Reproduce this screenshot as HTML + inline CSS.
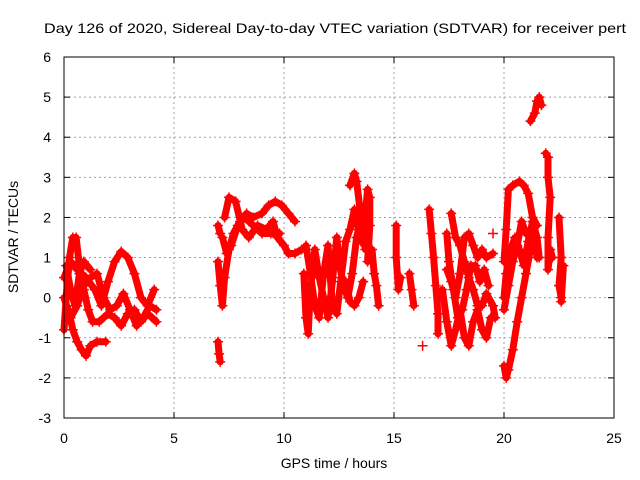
<!DOCTYPE html>
<html><head><meta charset="utf-8"><style>
html,body{margin:0;padding:0;background:#fff;}
svg{display:block;font-family:"Liberation Sans",sans-serif;}
</style></head><body>
<svg id="chart" width="640" height="480" viewBox="0 0 640 480">
<text x="44" y="33" font-size="14" textLength="582" lengthAdjust="spacingAndGlyphs">Day 126 of 2020, Sidereal Day-to-day VTEC variation (SDTVAR) for receiver pert</text>
<g id="grid"></g>
<g id="ticks"></g>
<g id="marks"></g>
<rect x="64" y="57" width="550" height="361" fill="none" stroke="#000" stroke-width="1"/>
<text x="334" y="468" font-size="14" text-anchor="middle">GPS time / hours</text>
<text x="0" y="0" font-size="14" text-anchor="middle" transform="translate(18,237) rotate(-90)">SDTVAR / TECUs</text>
</svg>
<script>
const xTicks=[0,5,10,15,20,25];
const yTicks=[-3,-2,-1,0,1,2,3,4,5,6];
const trackA=[[0,-0.8],[0.1,0],[0.25,1.0],[0.4,1.5],[0.55,1.5],[0.7,0.8],[0.9,0.2],[1.1,-0.3],[1.3,-0.6],[1.6,-0.6],[2.0,-0.4],[2.3,-0.5],[2.6,-0.7],[2.9,-0.4],[3.2,-0.3],[3.5,-0.6],[3.8,-0.4],[4.2,-0.6]];
const trackB=[[0,0.5],[0.3,0.9],[0.6,0.7],[1.0,0.5],[1.4,0.2],[1.7,-0.2],[2.0,0.4],[2.3,0.9],[2.6,1.15],[2.9,1.0],[3.2,0.6],[3.5,0.0],[3.8,-0.2],[4.1,0.2]];
const trackC=[[0,0],[0.3,-0.5],[0.6,-0.2],[0.9,0.3],[1.2,0.5],[1.5,0.6],[1.8,0.0],[2.1,-0.3],[2.4,-0.2],[2.7,0.1],[3.0,-0.3],[3.3,-0.7],[3.6,-0.5],[3.9,-0.2],[4.2,-0.3]];
const trackD=[[0.2,-0.3],[0.4,-0.8],[0.6,-1.1],[0.8,-1.3],[1.0,-1.45],[1.2,-1.2],[1.5,-1.1],[1.9,-1.1]];
const trackE=[[0.1,0.8],[0.3,0.2],[0.5,-0.2],[0.7,0.6],[0.9,0.9],[1.2,0.7]];
const trackF=[[7.0,0.9],[7.1,0.3],[7.2,-0.2],[7.3,0.5],[7.5,1.2],[7.7,1.6],[8.0,1.9],[8.3,2.1],[8.6,2.0],[9.0,2.1],[9.3,2.3],[9.6,2.4],[9.9,2.3],[10.2,2.1],[10.5,1.9]];
const trackG=[[7.3,2.0],[7.5,2.5],[7.8,2.4],[8.1,1.7],[8.4,1.5],[8.8,1.8],[9.2,1.7],[9.5,1.9],[9.7,1.5],[10.0,1.3],[10.2,1.1],[10.5,1.1],[10.8,1.2]];
const trackH=[[7.2,1.5],[7.4,1.1],[7.6,1.3],[7.9,1.8],[8.2,2.0],[8.6,1.8],[9.0,1.6],[9.4,1.6],[9.8,1.6]];
const trackI=[[7.0,1.8],[7.1,1.6]];
const trackI2=[[7.0,-1.1],[7.05,-1.4],[7.1,-1.6]];
const trackJ=[[10.9,0.6],[11.0,-0.5],[11.1,-0.9],[11.2,0.2],[11.4,1.2],[11.6,0.5],[11.8,0.0],[12.0,-0.5],[12.2,0.4],[12.4,1.5],[12.5,0.9],[12.7,0.3],[12.9,0.0],[13.1,0.6],[13.3,1.5],[13.5,2.0],[13.6,1.5],[13.7,1.2]];
const trackK=[[11.0,1.3],[11.2,0.6],[11.4,-0.2],[11.6,-0.5],[11.8,0.6],[12.0,1.3],[12.2,-0.2],[12.4,-0.4],[12.6,0.5],[12.8,1.4],[13.0,1.7],[13.2,2.2],[13.3,1.9],[13.5,1.4],[13.7,1.5]];
const trackL=[[12.8,0.4],[13.0,-0.1],[13.2,-0.2],[13.4,0.0],[13.6,0.4]];
const trackM=[[13.0,2.8],[13.2,3.1],[13.3,2.9],[13.5,2.0],[13.6,1.5],[13.8,2.7],[13.9,2.5],[13.9,1.8],[13.8,0.9]];
const trackN1=[[14.0,1.2],[14.1,0.6],[14.2,0.3],[14.3,-0.2]];
const trackN2=[[15.1,1.8],[15.1,1.0],[15.2,0.2],[15.3,0.5]];
const trackN3=[[15.7,0.6],[15.8,0.2],[15.9,-0.2]];
const trackN4=[[16.3,-1.2]];
const trackN5=[[16.6,2.2],[16.7,1.6],[16.8,1.0],[16.9,0.3],[17.0,-0.4],[17.0,-0.9]];
const trackN=[[17.2,0.2],[17.4,-0.6],[17.6,-1.2],[17.8,-0.8],[18.0,-0.3],[18.2,-1.0],[18.4,-1.2],[18.6,-0.6],[18.8,-0.3],[19.0,-0.8],[19.2,-1.0],[19.4,-0.5]];
const trackO=[[17.6,2.1],[17.8,1.5],[18.0,1.3],[18.2,0.9],[18.4,0.5],[18.6,0.2],[18.8,-0.2],[19.0,-0.2],[19.2,0.1],[19.5,-0.2],[19.6,-0.5]];
const trackP=[[17.4,0.7],[17.6,0.4],[17.8,0.0],[18.0,0.6],[18.2,1.5],[18.4,1.6],[18.6,1.3],[18.8,1.0],[19.0,1.2],[19.2,1.0],[19.5,1.1]];
const trackQ=[[17.4,1.6],[17.5,0.9],[17.7,0.2],[17.9,-0.5],[18.1,-0.3],[18.3,0.2],[18.5,0.8],[18.7,0.8],[18.9,0.4],[19.1,0.7],[19.3,0.3]];
const trackR=[[19.5,1.6]];
const trackS=[[20.0,-1.7],[20.1,-2.0],[20.2,-1.8],[20.4,-1.3],[20.6,-0.6],[20.8,0.0],[21.0,0.6],[21.2,1.2],[21.4,1.5],[21.5,1.0]];
const trackT=[[20.0,0.0],[20.1,0.6],[20.3,1.2],[20.5,1.5],[20.7,1.2],[20.9,0.8],[21.1,1.4],[21.3,1.9],[21.5,1.5],[21.6,1.0]];
const trackU=[[20.0,0.9],[20.1,1.7],[20.2,2.7],[20.4,2.8],[20.7,2.9],[20.9,2.8],[21.1,2.6],[21.3,2.0],[21.5,1.8]];
const trackV=[[20.0,-0.3],[20.2,0.3],[20.4,0.9],[20.6,1.3],[20.8,1.9],[21.0,1.6],[21.3,1.5]];
const trackW=[[21.2,4.4],[21.4,4.6],[21.5,4.9],[21.6,5.0],[21.7,4.8]];
const trackX=[[21.9,3.6],[22.0,3.5],[22.0,3.0],[22.1,2.5],[22.0,1.5],[22.0,0.7],[22.1,1.2],[22.2,1.0]];
const trackY=[[22.5,2.0],[22.6,1.0],[22.5,0.3],[22.6,0.0],[22.7,0.8],[22.6,-0.1]];
const tracks=[trackA,trackB,trackC,trackD,trackE,trackF,trackG,trackH,trackI,trackI2,trackJ,trackK,trackL,trackM,trackN1,trackN2,trackN3,trackN4,trackN5,trackN,trackO,trackP,trackQ,trackR,trackS,trackT,trackU,trackV,trackW,trackX,trackY];

const NS="http://www.w3.org/2000/svg";
const X0=64,X1=614,Y0=418,Y1=57;
const xs=v=>X0+(v-0)/(25-0)*(X1-X0);
const ys=v=>Y0-(v-(-3))/(6-(-3))*(Y0-Y1);
const grid=document.getElementById('grid'),ticks=document.getElementById('ticks'),marks=document.getElementById('marks');
function mk(tag,at,parent){const e=document.createElementNS(NS,tag);for(const k in at)e.setAttribute(k,at[k]);parent.appendChild(e);return e;}
xTicks.forEach(t=>{
  const x=xs(t);
  if(t>0&&t<25){const g=mk('line',{x1:x,x2:x,y1:Y1,y2:Y0,stroke:'#a0a0a0','stroke-dasharray':'2,3'},grid);
  
  }
  mk('line',{x1:x,x2:x,y1:Y0,y2:Y0-6,stroke:'#000'},ticks);
  mk('line',{x1:x,x2:x,y1:Y1,y2:Y1+6,stroke:'#000'},ticks);
  const l=mk('text',{x:x,y:443,'font-size':14,'text-anchor':'middle'},ticks);
  l.textContent=t;
  
  
});
yTicks.forEach(t=>{
  const y=ys(t);
  if(t>-3&&t<6){const g=mk('line',{x1:X0,x2:X1,y1:y,y2:y,stroke:'#a0a0a0','stroke-dasharray':'2,3'},grid);
  
  }
  mk('line',{x1:X0,x2:X0+6,y1:y,y2:y,stroke:'#000'},ticks);
  mk('line',{x1:X1,x2:X1-6,y1:y,y2:y,stroke:'#000'},ticks);
  const l=mk('text',{x:51,y:y+5,'font-size':14,'text-anchor':'end'},ticks);
  l.textContent=t;
  
  
});
tracks.forEach(tr=>{
  if(tr.length>1){
    const p=mk('polyline',{points:tr.map(d=>xs(d[0])+','+ys(d[1])).join(' '),fill:'none',stroke:'#ff0000','stroke-width':7,'stroke-linejoin':'round','stroke-linecap':'round'},marks);
    
    
  }
  tr.forEach(d=>{
    const x=xs(d[0]),y=ys(d[1]);
    const m=mk('path',{d:`M${x-5},${y}H${x+5}M${x},${y-5}V${y+5}`,stroke:'#ff0000','stroke-width':1.5},marks);
    
    
  });
});
</script>
</body></html>
